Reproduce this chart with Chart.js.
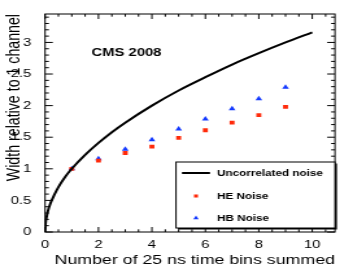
<!DOCTYPE html>
<html lang="en">
  <head>
    <meta charset="UTF-8" />
    <title>Width relative to 1 channel</title>
    <script src="https://cdn.jsdelivr.net/npm/chart.js"></script>
    <style>
      html, body { margin: 0; padding: 0; background: #fff; overflow: hidden; }
      /* the original picture is stretched sideways, so the chart is drawn narrow and scaled */
      #wrap {
        position: absolute; left: 0; top: 0;
        width: 272px; height: 269px;
        transform: scaleX(1.2978); transform-origin: 0 0;
      }
    </style>
  </head>
  <body>
    <div id="wrap"><canvas id="noiseChart"></canvas></div>
    <script>
      // values
      const curveX = [0, 0.02, 0.05, 0.1, 0.2, 0.35, 0.5, 0.75, 1, 1.5, 2, 2.5, 3, 4, 5, 6, 7, 8, 9, 10];
      const curveY = [0, 0.14, 0.22, 0.32, 0.45, 0.59, 0.71, 0.87, 1.0, 1.22, 1.41, 1.58, 1.73, 2.0, 2.24, 2.45, 2.65, 2.83, 3.0, 3.16];
      const binsSummed = [1, 2, 3, 4, 5, 6, 7, 8, 9];
      const heNoise = [1.0, 1.13, 1.25, 1.35, 1.49, 1.61, 1.73, 1.85, 1.98];
      const hbNoise = [1.0, 1.16, 1.31, 1.46, 1.63, 1.79, 1.95, 2.11, 2.29];
      const xTicks = [0, 2, 4, 6, 8, 10];
      const yTicks = [0, 0.5, 1, 1.5, 2, 2.5, 3];
      const yTitle = "Width relative to 1 channel";

      Chart.defaults.font.family = "'Liberation Sans', Arial, sans-serif";
      Chart.defaults.color = "#000";

      const toPoints = (xs, ys) => xs.map((v, i) => ({ x: v, y: ys[i] }));

      // ROOT style frame with ticks pointing inwards on all four sides
      const frameTicks = {
        id: "frameTicks",
        beforeDatasetsDraw(chart) {
          const { ctx, chartArea: a, scales: { x, y } } = chart;
          ctx.save();
          ctx.strokeStyle = "#000";
          ctx.lineWidth = 1;
          ctx.strokeRect(a.left, a.top, a.right - a.left, a.bottom - a.top);
          ctx.beginPath();
          for (let i = 0; i * 0.5 <= x.max; i++) {
            const px = x.getPixelForValue(i * 0.5);
            const len = i % 4 === 0 ? 5 : 2.7;
            ctx.moveTo(px, a.bottom); ctx.lineTo(px, a.bottom - len);
            ctx.moveTo(px, a.top); ctx.lineTo(px, a.top + len);
          }
          for (let i = 0; i * 0.1 <= y.max; i++) {
            const py = y.getPixelForValue(i * 0.1);
            const len = i % 5 === 0 ? 6 : 3;
            ctx.moveTo(a.left, py); ctx.lineTo(a.left + len, py);
            ctx.moveTo(a.right, py); ctx.lineTo(a.right - len, py);
          }
          ctx.stroke();

          // y axis title, rotated, ending at the top of the frame
          ctx.fillStyle = "#000";
          ctx.font = "14.2px 'Liberation Sans', Arial, sans-serif";
          ctx.translate(14.6, a.top);
          ctx.rotate(-Math.PI / 2);
          ctx.textAlign = "right";
          ctx.textBaseline = "alphabetic";
          ctx.fillText(yTitle, 0, 0);
          ctx.restore();
        },
        afterDatasetsDraw(chart) {
          const { ctx, scales: { x, y } } = chart;
          const ds = chart.data.datasets;
          ctx.save();
          ctx.fillStyle = "#000";
          ctx.textBaseline = "middle";
          ctx.font = "bold 11.4px 'Liberation Sans', Arial, sans-serif";
          ctx.textAlign = "center";
          ctx.fillText("CMS 2008", x.getPixelForValue(3.05), y.getPixelForValue(2.83));

          // legend box with shadow
          const bx = 135.6, by = 162, bw = chart.chartArea.right - bx, bh = 66;
          ctx.fillRect(bx + 1.5, by + 1.5, bw, bh);
          ctx.fillStyle = "#fff";
          ctx.fillRect(bx, by, bw, bh);
          ctx.strokeStyle = "#000";
          ctx.lineWidth = 1;
          ctx.strokeRect(bx, by, bw, bh);

          const rows = [173, 196, 218];
          ctx.lineWidth = 2;
          ctx.beginPath();
          ctx.moveTo(140.2, rows[0]); ctx.lineTo(161.8, rows[0]);
          ctx.stroke();
          [1, 2].forEach((k, j) => {
            const d = ds[k];
            ctx.fillStyle = d.backgroundColor;
            Chart.helpers.drawPoint(ctx, { pointStyle: d.pointStyle, radius: d.pointRadius * 0.8, rotation: 0, borderWidth: 0 }, 151, rows[j + 1]);
          });
          ctx.fillStyle = "#000";
          ctx.textAlign = "left";
          ctx.font = "bold 9px 'Liberation Sans', Arial, sans-serif";
          ds.forEach((d, i) => ctx.fillText(d.label, 167.2, rows[i] + 0.5));
          ctx.restore();
        },
      };

      new Chart(document.getElementById("noiseChart"), {
        type: "scatter",
        data: {
          datasets: [
            {
              label: "Uncorrelated noise",
              data: toPoints(curveX, curveY),
              showLine: true,
              borderColor: "#000",
              borderWidth: 2,
              pointRadius: 0,
              cubicInterpolationMode: "monotone",
            },
            {
              label: "HE Noise",
              data: toPoints(binsSummed, heNoise),
              pointStyle: "rect",
              pointRadius: 2.7,
              backgroundColor: "#ff2a0a",
              borderColor: "#ff2a0a",
              borderWidth: 0,
            },
            {
              label: "HB Noise",
              data: toPoints(binsSummed, hbNoise),
              pointStyle: "triangle",
              pointRadius: 3,
              backgroundColor: "#1238ff",
              borderColor: "#1238ff",
              borderWidth: 0,
            },
          ],
        },
        options: {
          responsive: true,
          maintainAspectRatio: false,
          animation: false,
          layout: { padding: { left: 0, right: 13.9, top: 14, bottom: 0 } },
          plugins: { legend: { display: false }, tooltip: { enabled: false } },
          scales: {
            x: {
              type: "linear",
              min: 0,
              max: 10.85,
              grid: { display: false },
              border: { display: false },
              afterBuildTicks: (s) => { s.ticks = xTicks.map((v) => ({ value: v })); },
              afterFit: (s) => { s.height = 37; },
              ticks: { font: { size: 11.5 }, padding: -2, maxRotation: 0, callback: (v) => String(v) },
              title: {
                display: true,
                text: "Number of 25 ns time bins summed",
                align: "end",
                font: { size: 13.7 },
                padding: { top: 0, bottom: 0.5 },
              },
            },
            y: {
              min: 0,
              max: 3.45,
              grid: { display: false },
              border: { display: false },
              afterBuildTicks: (s) => { s.ticks = yTicks.map((v) => ({ value: v })); },
              afterFit: (s) => { s.width = 34.7; },
              ticks: { font: { size: 11.5 }, padding: 2.5, callback: (v) => String(v) },
            },
          },
        },
        plugins: [frameTicks],
      });
    </script>
  </body>
</html>
